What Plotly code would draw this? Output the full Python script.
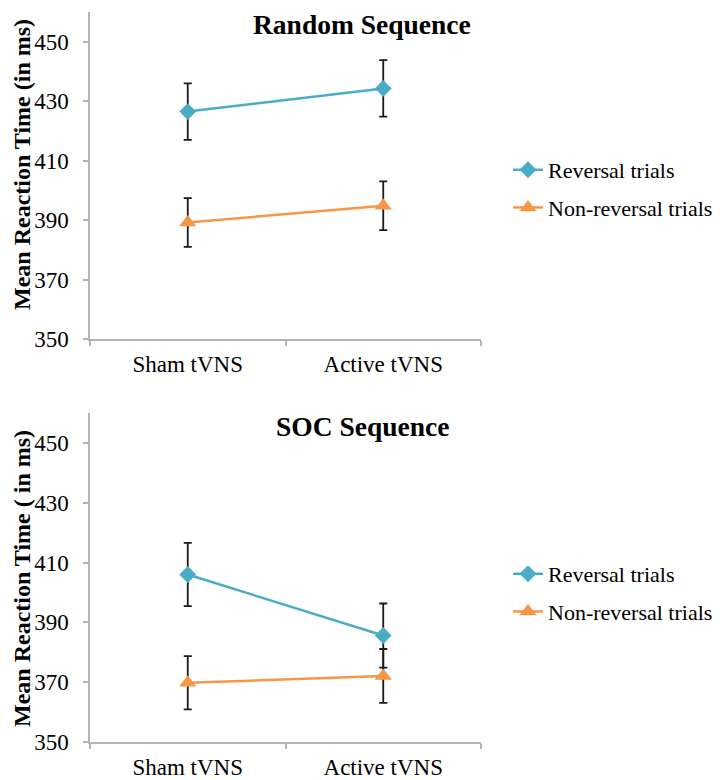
import plotly.graph_objects as go

conditions = ["Sham tVNS", "Active tVNS"]
series_names = ["Reversal trials", "Non-reversal trials"]

random_rev = [426.5, 434.3]
random_rev_err = [9.5, 9.5]
random_nonrev = [389.2, 394.8]
random_nonrev_err = [8.2, 8.2]

soc_rev = [406.0, 385.6]
soc_rev_err = [10.6, 10.7]
soc_nonrev = [369.8, 372.1]
soc_nonrev_err = [8.9, 9.0]

panel_titles = ["Random Sequence", "SOC Sequence"]
y_titles = ["Mean Reaction Time (in ms)", "Mean Reaction Time ( in ms)"]

BLUE = "#4BACC6"
ORANGE = "#F79646"
FONT = "Liberation Serif"
AXIS_COLOR = "#B4B4B4"

PAGE_W, PAGE_H = 726, 780
OFF = 8  # default page body margin
W, H = PAGE_W - 2 * OFF, PAGE_H - OFF


def px(v):
    return (v - OFF) / W


def py(v):
    return 1 - (v - OFF) / H


fig = go.Figure()


def add_series(y, err, name, color, symbol, size, xa, ya, legend):
    fig.add_trace(go.Scatter(
        x=conditions, y=y, name=name, mode="lines+markers",
        line=dict(color=color, width=2.5),
        marker=dict(symbol=symbol, size=size, color=color),
        error_y=dict(type="data", array=err, visible=True, color="#1a1a1a",
                     thickness=1.8, width=4),
        xaxis=xa, yaxis=ya, legend=legend, legendgroup=legend + name,
    ))


add_series(random_rev, random_rev_err, series_names[0], BLUE, "diamond", 13, "x", "y", "legend")
add_series(random_nonrev, random_nonrev_err, series_names[1], ORANGE, "triangle-up", 15, "x", "y", "legend")
add_series(soc_rev, soc_rev_err, series_names[0], BLUE, "diamond", 13, "x2", "y2", "legend2")
add_series(soc_nonrev, soc_nonrev_err, series_names[1], ORANGE, "triangle-up", 15, "x2", "y2", "legend2")

xdom = [px(90), px(481)]
top_dom = [py(339), py(12)]
bot_dom = [py(742), py(413)]

xaxis_common = dict(
    domain=xdom, type="category", range=[-0.5, 1.5], automargin=False,
    showline=True, linecolor=AXIS_COLOR, linewidth=1.5,
    ticks="outside", tickson="boundaries", ticklen=5, tickcolor=AXIS_COLOR,
    tickwidth=1.5, showgrid=False, zeroline=False,
    tickfont=dict(family=FONT, size=23, color="black"),
)
yaxis_common = dict(
    range=[350, 460], tick0=350, dtick=20, automargin=False,
    showline=True, linecolor=AXIS_COLOR, linewidth=1.5,
    ticks="outside", ticklen=5, tickcolor=AXIS_COLOR, tickwidth=1.5,
    showgrid=False, zeroline=False, ticklabelstandoff=10,
    tickfont=dict(family=FONT, size=23, color="black"),
)

legend_common = dict(
    font=dict(family=FONT, size=22, color="black"),
    bgcolor="rgba(0,0,0,0)", xanchor="left", yanchor="middle",
    traceorder="grouped", tracegroupgap=6, itemwidth=30,
)

fig.update_layout(
    width=W, height=H,
    margin=dict(l=0, r=0, t=0, b=0, autoexpand=False),
    paper_bgcolor="white", plot_bgcolor="white",
    xaxis=dict(**xaxis_common, anchor="y", ticklabelstandoff=4),
    yaxis=dict(**yaxis_common, domain=top_dom, anchor="x"),
    xaxis2=dict(**xaxis_common, anchor="y2", ticklabelstandoff=4),
    yaxis2=dict(**yaxis_common, domain=bot_dom, anchor="x2"),
    legend=dict(**legend_common, x=px(508), y=py(189)),
    legend2=dict(**legend_common, x=px(508), y=py(593)),
    showlegend=True,
)

for title, ytop in zip(panel_titles, [8, 410]):
    fig.add_annotation(text="<b>" + title + "</b>", x=px(362), y=py(ytop),
                       xref="paper", yref="paper", showarrow=False, borderpad=0,
                       xanchor="center", yanchor="top",
                       font=dict(family=FONT, size=27.5, color="black"))

for title, ycen in zip(y_titles, [165, 579]):
    fig.add_annotation(text="<b>" + title + "</b>", x=0, y=py(ycen),
                       xref="paper", yref="paper", showarrow=False, textangle=-90,
                       xanchor="left", yanchor="middle", borderpad=0,
                       font=dict(family=FONT, size=24, color="black"))

fig.write_html("out.html")
